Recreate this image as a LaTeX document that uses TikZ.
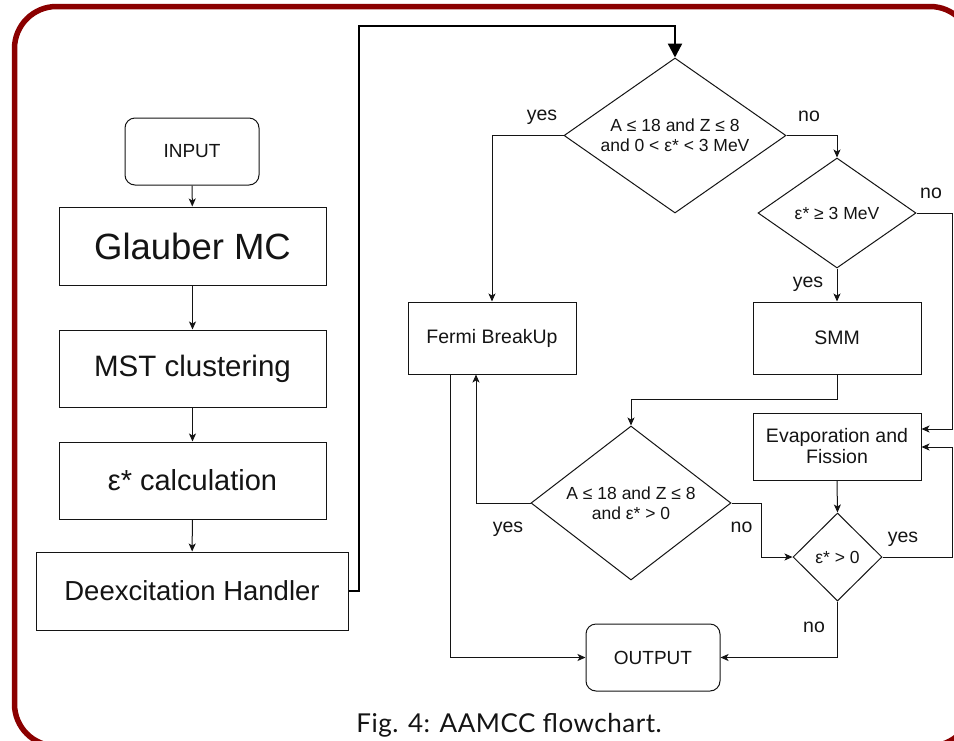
\documentclass[tikz,border=0pt]{standalone}
\usepackage{fontspec}
\setmainfont{Liberation Sans}
\newfontfamily\capfont[LetterSpace=2]{Lato}
\usetikzlibrary{shapes.geometric,arrows.meta,calc}
\definecolor{framered}{RGB}{139,0,0}
\definecolor{ink}{RGB}{20,20,20}
\tikzset{
  box/.style={draw=ink, line width=1pt, rectangle, inner sep=0pt, align=center, text=ink, font=\fontsize{19.5}{21}\selectfont},
  term/.style={box, rounded corners=10pt, font=\fontsize{19}{21}\selectfont},
  dia/.style={draw=ink, line width=1pt, diamond, inner sep=0pt, align=center, text=ink, font=\fontsize{17.5}{20}\selectfont},
  conn/.style={line width=1pt, draw=ink, -{Stealth[length=8pt,width=7pt,inset=2pt]}},
  thickconn/.style={line width=2.3pt, draw=black, -{Triangle[length=14pt,width=14pt]}},
  lbl/.style={anchor=base, font=\fontsize{19.5}{22}\selectfont, text=ink, inner sep=0pt},
}
\begin{document}
\begin{tikzpicture}[x=1pt,y=-1pt]
\useasboundingbox (0,0) rectangle (954,740);
\clip (0,0) rectangle (954,740);
\fill[white] (0,0) rectangle (954,740);
\draw[framered, line width=5.5pt, rounded corners=42pt] (14.5,6.5) rectangle (972,746);

% left column
\node[term, minimum width=134pt, minimum height=67pt] (input) at (192,151.5) {INPUT};
\node[box, minimum width=267pt, minimum height=78pt, font=\fontsize{36.5}{40}\selectfont] (glauber) at (192.5,246) {Glauber MC};
\node[box, minimum width=267pt, minimum height=77pt, font=\fontsize{29.5}{32}\selectfont] (mst) at (192.5,368.5) {MST clustering};
\node[box, minimum width=267pt, minimum height=77pt, font=\fontsize{29}{32}\selectfont] (eps) at (192.5,480.5) {ε* calculation};
\node[box, minimum width=312pt, minimum height=78pt, font=\fontsize{27.5}{30}\selectfont] (deex) at (192,591) {Deexcitation Handler};

% right part
\node[dia, minimum width=222pt, minimum height=155pt, shape aspect=1.43] (d1) at (675,135.5) {A ≤ 18 and Z ≤ 8\\and 0 < ε* < 3 MeV};
\node[dia, minimum width=158pt, minimum height=110pt, shape aspect=1.43] (d2) at (837,213) {ε* ≥ 3 MeV};
\node[box, minimum width=168pt, minimum height=72pt] (fermi) at (492,338) {Fermi BreakUp};
\node[box, minimum width=168pt, minimum height=72pt] (smm) at (837,338) {SMM};
\node[box, minimum width=168pt, minimum height=67pt] (evap) at (837,446.5) {Evaporation and\\Fission};
\node[dia, minimum width=200pt, minimum height=154pt, shape aspect=1.3] (d3) at (631,503) {A ≤ 18 and Z ≤ 8\\and ε* > 0};
\node[dia, minimum width=89pt, minimum height=88pt, shape aspect=1] (d4) at (837.5,557) {ε* > 0};
\node[term, minimum width=134pt, minimum height=67pt] (output) at (653,657.5) {OUTPUT};

% left column connectors
\draw[conn] (input) -- (glauber);
\draw[conn] (glauber) -- (mst);
\draw[conn] (mst) -- (eps);
\draw[conn] (eps) -- (deex);

% thick connector to first decision
\coordinate (j1) at (359,26);
\draw[thickconn] (deex.east) -| (j1) -| (d1.north);

% decisions
\draw[conn] (d1.west) -| (fermi.north);
\draw[conn] (d1.east) -| (d2.north);
\draw[conn] (d2.south) -- (smm.north);
\draw[conn] (d2.east) -| ($(evap.east)+(31,-17.5)$) -- ($(evap.east)+(0,-17.5)$);
\draw[conn] (smm.south) -- ++(0,25) -| (d3.north);
\draw[conn] (evap.south) -- (d4.north);
\draw[conn] (d4.east) -| ($(evap.east)+(31,0.5)$) -- ($(evap.east)+(0,0.5)$);
\draw[conn] (d3.west) -| ($(fermi.south)+(-16,0)$);
\draw[conn] ($(fermi.south)+(-42,0)$) |- (output.west);
\draw[conn] (d3.east) -- ++(30,0) |- (d4.west);
\draw[conn] (d4.south) |- (output.east);

% labels
\node[lbl] (l1) at (542,120) {yes};
\node[lbl] (l2) at (809,121) {no};
\node[lbl] (l3) at (931,198) {no};
\node[lbl] (l4) at (808,287) {yes};
\node[lbl] (l5) at (508,532) {yes};
\node[lbl] (l6) at (741.5,532) {no};
\node[lbl] (l7) at (903,542) {yes};
\node[lbl] (l8) at (814,632) {no};

% caption
\node[anchor=base, inner sep=0pt, text=ink, font=\capfont\fontsize{26}{28}\selectfont] (cap) at (509,732) {Fig. 4: AAMCC flowchart.};
\end{tikzpicture}
\end{document}
